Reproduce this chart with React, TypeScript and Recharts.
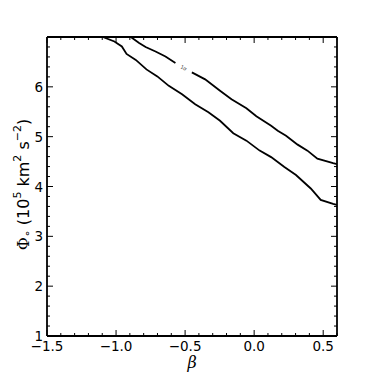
import { LineChart, Line, XAxis, YAxis, ReferenceDot } from 'recharts';

// contour 1 (upper edge); null marks the gap left for the inline label
const upperBeta = [-0.893, -0.833, -0.786, -0.714, -0.642, -0.57, -0.51, -0.451, -0.355, -0.247, -0.164, -0.056, 0.016, 0.123, 0.171, 0.231, 0.315, 0.386, 0.458, 0.572, 0.6];
const upperPhi = [7.0, 6.88, 6.8, 6.71, 6.61, 6.48, null, 6.29, 6.15, 5.92, 5.75, 5.57, 5.41, 5.22, 5.12, 5.02, 4.84, 4.72, 4.56, 4.47, 4.45];

// contour 2 (lower edge)
const lowerBeta = [-1.096, -1.012, -0.958, -0.924, -0.857, -0.78, -0.701, -0.618, -0.522, -0.427, -0.331, -0.247, -0.151, -0.056, 0.04, 0.123, 0.219, 0.303, 0.41, 0.482, 0.572, 0.6];
const lowerPhi = [7.0, 6.91, 6.81, 6.66, 6.54, 6.35, 6.21, 6.02, 5.85, 5.65, 5.49, 5.32, 5.07, 4.92, 4.72, 4.59, 4.39, 4.23, 3.96, 3.73, 3.65, 3.63];

const contourLabel = '1σ';
const contourLabelBeta = -0.51;
const contourLabelPhi = 6.385;

const xMajor = [-1.5, -1.0, -0.5, 0.0, 0.5];
const xTicks = [-1.5, -1.4, -1.3, -1.2, -1.1, -1.0, -0.9, -0.8, -0.7, -0.6, -0.5, -0.4, -0.3, -0.2, -0.1, 0.0, 0.1, 0.2, 0.3, 0.4, 0.5, 0.6];
const yMajor = [1, 2, 3, 4, 5, 6, 7];
const yTicks = [1, 1.2, 1.4, 1.6, 1.8, 2, 2.2, 2.4, 2.6, 2.8, 3, 3.2, 3.4, 3.6, 3.8, 4, 4.2, 4.4, 4.6, 4.8, 5, 5.2, 5.4, 5.6, 5.8, 6, 6.2, 6.4, 6.6, 6.8, 7];
const yLabelled = [1, 2, 3, 4, 5, 6];

const upperData = upperBeta.map((b, i) => ({ beta: b, phi: upperPhi[i] }));
const lowerData = lowerBeta.map((b, i) => ({ beta: b, phi: lowerPhi[i] }));

const FONT = '"DejaVu Sans", sans-serif';
const isMajor = (list: number[], v: number) => list.some((m) => Math.abs(m - v) < 1e-6);
const fmt = (v: number) => v.toFixed(1).replace('-', '\u2212');

const BottomTick = (props: any) => {
  const { x, y, payload } = props;
  const v = payload.value;
  const major = isMajor(xMajor, v);
  return (
    <g>
      <line x1={x} x2={x} y1={y} y2={y - (major ? 6 : 3)} stroke="#000" strokeWidth={1} />
      {major && (
        <text x={x} y={y + 15} textAnchor="middle" fontFamily={FONT} fontSize={13.5} fill="#000">
          {fmt(v)}
        </text>
      )}
    </g>
  );
};

const TopTick = (props: any) => {
  const { x, y, payload } = props;
  const major = isMajor(xMajor, payload.value);
  return <line x1={x} x2={x} y1={y} y2={y + (major ? 6 : 3)} stroke="#000" strokeWidth={1} />;
};

const LeftTick = (props: any) => {
  const { x, y, payload } = props;
  const v = payload.value;
  const major = isMajor(yMajor, v);
  return (
    <g>
      <line x1={x} x2={x + (major ? 6 : 3)} y1={y} y2={y} stroke="#000" strokeWidth={1} />
      {isMajor(yLabelled, v) && (
        <text x={x - 4} y={y + 5} textAnchor="end" fontFamily={FONT} fontSize={13.5} fill="#000">
          {v}
        </text>
      )}
    </g>
  );
};

const RightTick = (props: any) => {
  const { x, y, payload } = props;
  const major = isMajor(yMajor, payload.value);
  return <line x1={x} x2={x - (major ? 6 : 3)} y1={y} y2={y} stroke="#000" strokeWidth={1} />;
};

const YTitle = (props: any) => {
  const vb = props.viewBox;
  const cx = 23;
  const cy = vb.y + vb.height / 2 - 2;
  return (
    <text x={cx} y={cy} transform={`rotate(-90 ${cx} ${cy})`} textAnchor="middle" fontFamily={FONT} fontSize={16} fill="#000" dominantBaseline="central">
      <tspan fontFamily='"DejaVu Serif", serif'>Φ</tspan>
      <tspan fontSize={11} dy={4}>∘</tspan>
      <tspan dy={-4}>{' (10'}</tspan>
      <tspan fontSize={11} dy={-6}>5</tspan>
      <tspan dy={6}>{' km'}</tspan>
      <tspan fontSize={11} dy={-6}>2</tspan>
      <tspan dy={6}>{' s'}</tspan>
      <tspan fontSize={11} dy={-6}>−2</tspan>
      <tspan dy={6}>)</tspan>
    </text>
  );
};

const XTitle = (props: any) => {
  const vb = props.viewBox;
  return (
    <text x={vb.x + vb.width / 2} y={vb.y + 32} textAnchor="middle" fontFamily='"DejaVu Serif", serif' fontStyle="italic" fontSize={16} fill="#000">
      β
    </text>
  );
};

const ContourLabel = (props: any) => {
  const vb = props.viewBox;
  const cx = vb.x + (vb.width || 0) / 2;
  const cy = vb.y + (vb.height || 0) / 2;
  return (
    <text x={cx} y={cy} transform={`rotate(25 ${cx} ${cy})`} textAnchor="middle" dominantBaseline="central" fontFamily={FONT} fontSize={5} fill="#444">
      {contourLabel}
    </text>
  );
};

const axisLine = { stroke: '#000', strokeWidth: 1.8 };

export default function App() {
  return (
    <div style={{ position: 'absolute', left: 0, top: 0, width: 374, height: 374, background: '#fff' }}>
      <LineChart width={374} height={374} margin={{ top: 36, right: 36, bottom: 0, left: 0 }}>
        <XAxis
          dataKey="beta"
          type="number"
          domain={[-1.5, 0.6]}
          ticks={xTicks}
          interval={0}
          allowDataOverflow
          height={38}
          tickSize={0}
          tickMargin={0}
          tickLine={false}
          axisLine={axisLine}
          tick={<BottomTick />}
          label={{ content: <XTitle /> }}
        />
        <XAxis
          xAxisId="top"
          dataKey="beta"
          orientation="top"
          type="number"
          domain={[-1.5, 0.6]}
          ticks={xTicks}
          interval={0}
          allowDataOverflow
          height={1}
          tickSize={0}
          tickMargin={0}
          tickLine={false}
          axisLine={axisLine}
          tick={<TopTick />}
        />
        <YAxis
          type="number"
          domain={[1, 7]}
          ticks={yTicks}
          interval={0}
          allowDataOverflow
          width={47}
          tickSize={0}
          tickMargin={0}
          tickLine={false}
          axisLine={axisLine}
          tick={<LeftTick />}
          label={{ content: <YTitle /> }}
        />
        <YAxis
          yAxisId="right"
          orientation="right"
          type="number"
          domain={[1, 7]}
          ticks={yTicks}
          interval={0}
          allowDataOverflow
          width={1}
          tickSize={0}
          tickMargin={0}
          tickLine={false}
          axisLine={axisLine}
          tick={<RightTick />}
        />
        <Line data={upperData} dataKey="phi" type="linear" stroke="#000" strokeWidth={1.8} dot={false} isAnimationActive={false} connectNulls={false} />
        <Line data={lowerData} dataKey="phi" type="linear" stroke="#000" strokeWidth={1.8} dot={false} isAnimationActive={false} />
        {/* invisible copy bound to the mirrored top/right axes so they get drawn */}
        <Line xAxisId="top" yAxisId="right" data={lowerData} dataKey="phi" stroke="none" dot={false} activeDot={false} isAnimationActive={false} />
        <ReferenceDot x={contourLabelBeta} y={contourLabelPhi} r={0} fill="none" stroke="none" label={{ content: <ContourLabel /> }} />
      </LineChart>
    </div>
  );
}
